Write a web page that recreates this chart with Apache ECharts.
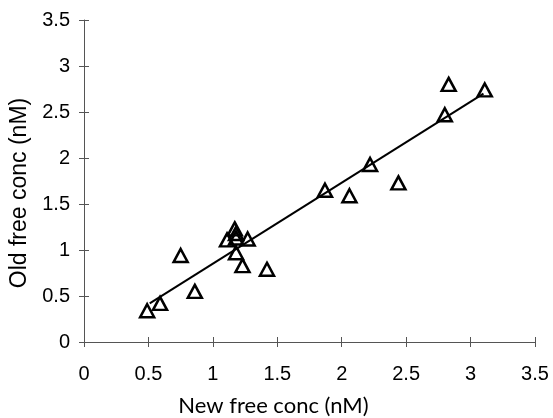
<!DOCTYPE html>
<html>
<head>
<meta charset="utf-8">
<script src="https://cdn.jsdelivr.net/npm/echarts@6/dist/echarts.min.js"></script>
<style>
  html, body { margin: 0; padding: 0; background: #fff; }
  #main { width: 553px; height: 418px; }
</style>
</head>
<body>
<div id="main"></div>
<script>
// data
let newConc = [0.49, 0.59, 0.75, 0.86, 1.11, 1.17, 1.18, 1.18, 1.27, 1.18, 1.23, 1.42, 1.87, 2.06, 2.22, 2.44, 2.80, 2.83, 3.11];
let oldConc = [0.34, 0.42, 0.94, 0.55, 1.11, 1.23, 1.18, 1.13, 1.12, 0.97, 0.83, 0.79, 1.65, 1.59, 1.93, 1.73, 2.47, 2.80, 2.74];
// fitted line end points
let fitX = [0.51, 3.10];
let fitY = [0.42, 2.70];
let ticks = [0, 0.5, 1, 1.5, 2, 2.5, 3, 3.5];

window.addEventListener("load", function () {
    let chart = echarts.init(document.getElementById("main"));

    let points = newConc.map(function (x, i) { return [x, oldConc[i]]; });
    let fit = fitX.map(function (x, i) { return [x, fitY[i]]; });

    let labelFmt = function (v) { return ticks.indexOf(v) >= 0 ? String(v) : ''; };

    let option = {
        animation: false,
        grid: { left: 84, right: 18, top: 20, bottom: 76, outerBoundsMode: 'none', containLabel: false },
        xAxis: [{
            type: 'value', min: 0, max: 3.5, interval: 0.5,
            name: 'New free conc (nM)',
            nameLocation: 'middle', nameGap: 53,
            nameTextStyle: { fontFamily: 'Lato', fontSize: 22, color: '#000', padding: [0, 72, 0, 0] },
            axisLine: { show: true, lineStyle: { color: '#555', width: 1 } },
            axisTick: { show: true, length: 5, lineStyle: { color: '#555' } },
            axisLabel: { margin: 22, fontFamily: 'Liberation Sans', fontSize: 20, color: '#000', formatter: labelFmt },
            splitLine: { show: false }
        }, {
            // inner half of the crossing ticks
            type: 'value', min: 0, max: 3.5, interval: 0.5, position: 'bottom',
            axisLine: { show: false },
            axisTick: { show: true, inside: true, length: 5, lineStyle: { color: '#555' } },
            axisLabel: { show: false },
            splitLine: { show: false }
        }],
        yAxis: [{
            type: 'value', min: 0, max: 3.5, interval: 0.5,
            name: 'Old free conc (nM)',
            nameLocation: 'middle', nameGap: 46,
            nameTextStyle: { fontFamily: 'Liberation Sans', fontSize: 23, color: '#000', padding: [0, 24, 0, 0] },
            axisLine: { show: true, lineStyle: { color: '#555', width: 1 } },
            axisTick: { show: true, length: 5, lineStyle: { color: '#555' } },
            axisLabel: { margin: 14, fontFamily: 'Liberation Sans', fontSize: 20, color: '#000', formatter: labelFmt },
            splitLine: { show: false }
        }, {
            type: 'value', min: 0, max: 3.5, interval: 0.5, position: 'left',
            axisLine: { show: false },
            axisTick: { show: true, inside: true, length: 5, lineStyle: { color: '#555' } },
            axisLabel: { show: false },
            splitLine: { show: false }
        }],
        series: [{
            type: 'line',
            data: fit,
            showSymbol: false,
            lineStyle: { color: '#000', width: 2 },
            z: 2
        }, {
            type: 'scatter',
            data: points,
            symbol: 'triangle',
            symbolSize: [14, 13],
            itemStyle: { color: 'rgba(255,255,255,0)', borderColor: '#000', borderWidth: 2.5, opacity: 1 },
            z: 3
        }]
    };

    chart.setOption(option);
}, false);
</script>
</body>
</html>
